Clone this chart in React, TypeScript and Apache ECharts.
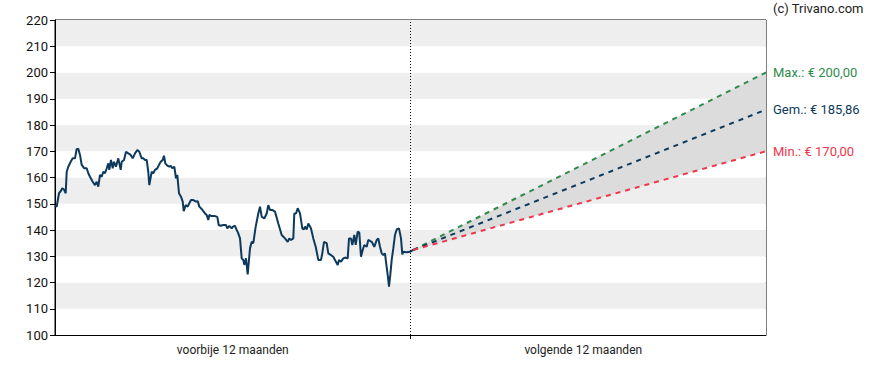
import React, { useEffect, useRef } from "react";
import * as echarts from "echarts";

// x in trading-day index, 0..711 covers 24 months (past 12 + next 12)
const periodLabels = ["voorbije 12 maanden", "volgende 12 maanden"];
const yTicksMin = 100;
const yTicksMax = 220;
const totalDays = 711;
const todayDay = 355.5;

const pastDays = [
  0, 1.7, 4, 5.7, 7.3, 9, 10.7, 11.7, 13.3, 15.7, 17.7, 20, 21.7, 23.3, 25, 26.7, 29.3, 31.7, 33.3, 35,
  37.7, 40, 41.7, 43.3, 45, 46.7, 48.3, 50, 51.7, 53.3, 54.3, 56, 57.7, 59, 61, 63.3, 65.7, 66.7, 69, 71,
  73.3, 75.7, 77.7, 80, 82.3, 84.3, 86.7, 88.3, 90, 91.7, 93.3, 94.3, 96.7, 98.3, 100, 102.3, 104, 105.7, 107.7, 109,
  110.3, 112.3, 114.3, 115.7, 117.3, 119.3, 121, 122.3, 124, 126, 127.7, 128.7, 130.7, 132.7, 134.3, 136, 138.3, 141, 142.7, 144.3,
  146.7, 148.3, 150, 151.7, 153.3, 154.3, 156.7, 160, 162.3, 163.7, 165.7, 168.3, 171, 172.3, 174.3, 176.7, 178, 180, 181.7, 183,
  185, 186.7, 188.3, 189.3, 191, 192.7, 195, 196.7, 198.3, 200.7, 203.3, 205, 206.7, 209.3, 211.7, 213.3, 215, 217.5, 220, 223.3,
  226.7, 230, 232.7, 234.3, 236, 238.3, 239.3, 241, 242.7, 245, 247.3, 248.7, 250, 251.7, 253.3, 256, 258.3, 260.7, 263.3, 266,
  267.3, 269, 271.7, 273.3, 275.7, 278.3, 280, 282.7, 284, 286, 288.3, 290, 292.7, 294, 296, 297.3, 299.3, 300.7, 302.7, 304.3,
  306, 307.7, 309.3, 311.7, 313.3, 316.7, 319.3, 321.7, 323.3, 325, 326.7, 328.3, 330, 331, 332.7, 334, 335.3, 336.7, 338.3, 340,
  341.7, 344, 346, 347.3, 348.3, 351.7, 355, 358.3,
];

const pastPrices = [
  149.3, 148.9, 154, 154.8, 155.9, 155.4, 154, 162.2, 164.1, 166, 167.3, 167.3, 170.9, 170.9, 168.6, 164.8, 163.5, 163.5, 161.6, 160.3,
  158.4, 157.1, 158.4, 156.5, 161, 160.3, 162.2, 161.6, 163.5, 165.4, 162.9, 166.7, 163.5, 166, 164.1, 167.3, 162.9, 166, 166.7, 169.8,
  169.2, 168.6, 167.3, 169.2, 170.5, 169.8, 167.3, 167.3, 166.7, 166.7, 162, 157.1, 162.2, 161.6, 162.9, 163.5, 164.8, 166, 166.7, 168.3,
  165.4, 164.5, 164.1, 164.5, 163.5, 164.1, 159.7, 161, 154, 152.7, 150.8, 147.2, 149.5, 148.9, 150.2, 151.4, 151.4, 150.8, 151, 148.9,
  148, 147.2, 146.3, 145.7, 143.8, 145.7, 145.3, 145.3, 145, 141.9, 141.6, 141.9, 141.9, 140.6, 141.6, 140.6, 141.3, 141.6, 140, 139,
  136.8, 129.2, 128.6, 126.7, 129.2, 123.1, 133, 135.5, 135, 141.3, 146.3, 148.9, 145.1, 144.4, 146.3, 149.5, 147.6, 147.6, 147, 142.5,
  138.1, 136.8, 135.5, 136.8, 136.2, 136.8, 146.3, 146.3, 148.3, 146.3, 140.6, 140.2, 141.3, 140.2, 142.5, 140.6, 136.8, 133.6, 128.6, 128.6,
  131.1, 135.5, 135, 131.1, 130.5, 129.8, 128.6, 126.7, 128.6, 127.9, 129.2, 129.5, 129.2, 136.8, 136.8, 134.3, 138.1, 134.3, 139.4, 139,
  129.8, 132.4, 134.3, 133.6, 136.2, 135.5, 133.6, 136.2, 136.8, 133.6, 131.1, 130.5, 131.1, 127.9, 122.9, 118.4, 122.9, 128.6, 133, 138.1,
  140.2, 140.6, 136.8, 130.7, 131.7, 131.5, 131.7, 132.4,
];

const forecastDays = [358.3, 711];
const forecastMax = [132.4, 200.0];
const forecastAvg = [132.4, 185.86];
const forecastMin = [132.4, 170.0];

const fmt = (v: number) => v.toFixed(2).replace(".", ",");

export default function App() {
  const ref = useRef<HTMLDivElement>(null);
  useEffect(() => {
    if (!ref.current) return;
    const chart = echarts.init(ref.current, null, { renderer: "svg" });
    const font = "Roboto, 'Noto Sans', sans-serif";
    const past = pastDays.map((d, i) => [d, pastPrices[i]]);
    const pair = (arr: number[]) => forecastDays.map((d, i) => [d, arr[i]]);
    const dash = [5, 5];
    chart.setOption({
      animation: false,
      textStyle: { fontFamily: font },
      grid: {
        left: 55,
        right: 122,
        top: 20,
        bottom: 35,
        show: true,
        borderColor: "#000",
        borderWidth: 1,
        backgroundColor: "transparent",
      },
      xAxis: [
        {
          type: "category",
          position: "bottom",
          data: [
            { value: periodLabels[0] },
            { value: periodLabels[1], textStyle: { padding: [0, 10, 0, 0] } },
          ],
          boundaryGap: true,
          axisLine: { show: true, lineStyle: { color: "#000", width: 1 } },
          axisTick: { show: false },
          axisLabel: { color: "#222", fontSize: 12, fontFamily: font, margin: 9 },
          splitLine: { show: false },
        },
        {
          type: "value",
          position: "bottom",
          offset: 0,
          min: 0,
          max: totalDays,
          axisLine: { show: false },
          axisLabel: { show: false },
          axisTick: { show: true, length: 4, customValues: [todayDay], lineStyle: { color: "#000" } },
          splitLine: { show: false },
        },
      ],
      yAxis: {
        type: "value",
        min: yTicksMin,
        max: yTicksMax,
        interval: 10,
        axisLine: { show: true, lineStyle: { color: "#000" } },
        axisTick: { show: true, length: 5, lineStyle: { color: "#000" } },
        axisLabel: { color: "#111", fontSize: 13, fontFamily: font, margin: 7 },
        splitLine: { show: false },
        splitArea: { show: true, areaStyle: { color: ["#ffffff", "#eeeeee"] } },
      },
      graphic: [
        {
          type: "text",
          left: 773,
          top: 2,
          style: { text: "(c) Trivano.com", fontSize: 13, fontFamily: font, fill: "#222" },
        },
      ],
      series: [
        {
          name: "band",
          type: "custom",
          xAxisIndex: 1,
          silent: true,
          z: 1,
          data: [[forecastDays[0], forecastMin[0]]],
          encode: { x: 0, y: 1 },
          renderItem: (params: any, api: any) => {
            const upper = forecastDays.map((d, i) => api.coord([d, forecastMax[i]]));
            const lower = forecastDays.map((d, i) => api.coord([d, forecastMin[i]])).reverse();
            return {
              type: "polygon",
              shape: { points: upper.concat(lower) },
              style: { fill: "#dcdcdc" },
            };
          },
        },
        {
          name: "past",
          type: "line",
          xAxisIndex: 1,
          data: past,
          symbol: "none",
          lineStyle: { color: "#0d3a5c", width: 2 },
          z: 3,
          markLine: {
            silent: true,
            symbol: "none",
            label: { show: false },
            lineStyle: { color: "#000", type: [1, 2], width: 1 },
            data: [{ xAxis: todayDay }],
          },
        },
        {
          name: "max",
          type: "line",
          xAxisIndex: 1,
          data: pair(forecastMax),
          symbol: "none",
          lineStyle: { color: "#2e8b4a", width: 2, type: dash },
          endLabel: {
            show: true,
            distance: 7,
            formatter: () => "Max.: € " + fmt(forecastMax[1]),
            color: "#2e8b4a",
            fontSize: 13,
            fontFamily: font,
          },
          z: 4,
        },
        {
          name: "avg",
          type: "line",
          xAxisIndex: 1,
          data: pair(forecastAvg),
          symbol: "none",
          lineStyle: { color: "#0d3a5c", width: 2, type: dash },
          endLabel: {
            show: true,
            distance: 7,
            formatter: () => "Gem.: € " + fmt(forecastAvg[1]),
            color: "#0d3a5c",
            fontSize: 13,
            fontFamily: font,
          },
          z: 4,
        },
        {
          name: "min",
          type: "line",
          xAxisIndex: 1,
          data: pair(forecastMin),
          symbol: "none",
          lineStyle: { color: "#f0364a", width: 2, type: dash },
          endLabel: {
            show: true,
            distance: 7,
            formatter: () => "Min.: € " + fmt(forecastMin[1]),
            color: "#f0364a",
            fontSize: 13,
            fontFamily: font,
          },
          z: 4,
        },
      ],
    });
    return () => chart.dispose();
  }, []);
  return <div ref={ref} style={{ position: "absolute", left: 0, top: 0, width: 888, height: 370 }} />;
}
